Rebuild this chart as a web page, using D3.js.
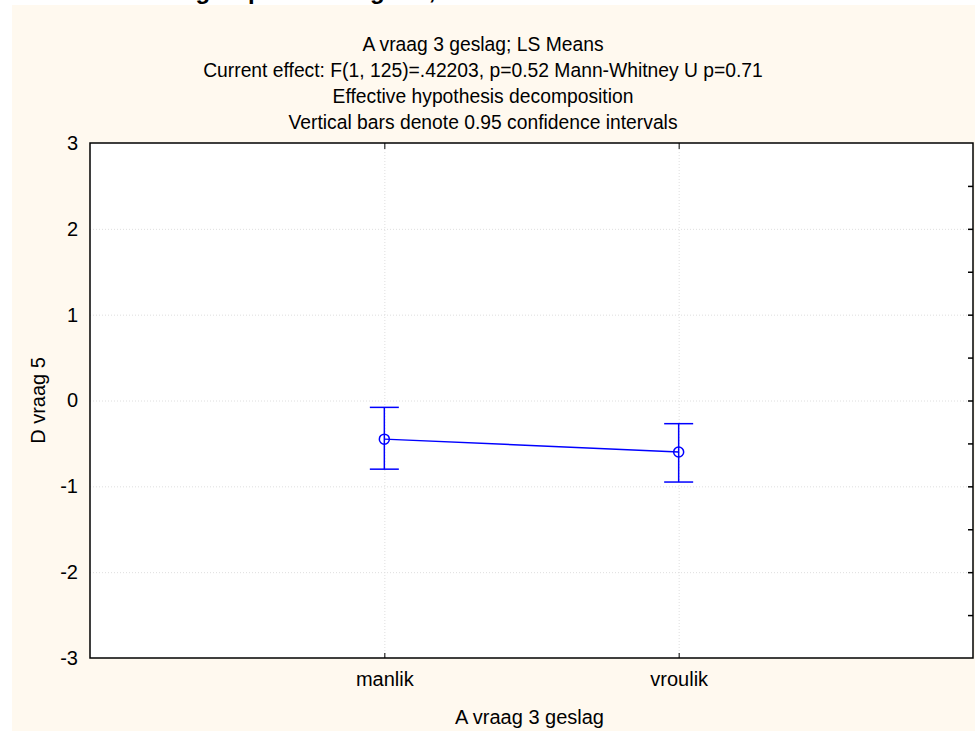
<!DOCTYPE html>
<html>
<head>
<meta charset="utf-8">
<script src="https://cdn.jsdelivr.net/npm/d3@7"></script>
<style>
  html, body { margin: 0; padding: 0; background: #ffffff; }
  svg { display: block; }
  text { font-family: "Liberation Sans", Arial, sans-serif; fill: #000; }
</style>
</head>
<body>
<svg id="chart" width="975" height="731"></svg>
<script>
// LS means of "D vraag 5" by gender, with 95% confidence limits
const categories = ["manlik", "vroulik"];
const means      = [-0.45, -0.60];
const lower95    = [-0.80, -0.95];
const upper95    = [-0.08, -0.27];
const yTicks     = [-3, -2, -1, 0, 1, 2, 3];
const yMinorTicks = [-2.5, -2, -1.5, -1, -0.5, 0, 0.5, 1, 1.5, 2, 2.5];

const titleLines = [
  "A vraag 3 geslag; LS Means",
  "Current effect: F(1, 125)=.42203, p=0.52 Mann-Whitney U p=0.71",
  "Effective hypothesis decomposition",
  "Vertical bars denote 0.95 confidence intervals"
];
const xTitle = "A vraag 3 geslag";
const yTitle = "D vraag 5";

const svg = d3.select("#chart");
const W = 975, H = 731;
const FONT = 20;
const TITLE_FONT = 19.3;

// page heading running above the chart panel
const heading = svg.append("text")
  .attr("y", -1)
  .attr("font-size", 24)
  .attr("font-weight", "bold");
heading.append("tspan").attr("x", 122).text("D vraag");
heading.append("tspan").attr("x", 222).text("5");
heading.append("tspan").attr("x", 248).text("per");
heading.append("tspan").attr("x", 322).text("kategorie,");

// chart panel
svg.append("rect")
  .attr("x", 12).attr("y", 5)
  .attr("width", W - 12).attr("height", H - 5)
  .attr("fill", "#fff9ef");

const plot = { left: 90, top: 143, right: 973, bottom: 658 };

const x = d3.scalePoint()
  .domain(categories)
  .range([plot.left, plot.right])
  .padding(1);

const y = d3.scaleLinear()
  .domain([-3, 3])
  .range([plot.bottom, plot.top]);

// plot area
svg.append("rect")
  .attr("x", plot.left).attr("y", plot.top)
  .attr("width", plot.right - plot.left)
  .attr("height", plot.bottom - plot.top)
  .attr("fill", "#ffffff");

// dotted grid
const grid = svg.append("g")
  .attr("stroke", "#dedede")
  .attr("stroke-width", 1)
  .attr("stroke-dasharray", "1,2");
grid.selectAll("line.h")
  .data(yTicks.filter(v => v > -3 && v < 3))
  .join("line")
  .attr("x1", plot.left).attr("x2", plot.right)
  .attr("y1", d => y(d) + 0.5).attr("y2", d => y(d) + 0.5);
grid.selectAll("line.v")
  .data(categories)
  .join("line")
  .attr("x1", d => x(d) + 0.5).attr("x2", d => x(d) + 0.5)
  .attr("y1", plot.top).attr("y2", plot.bottom);

// left axis labels
svg.append("g")
  .attr("transform", `translate(${plot.left},0)`)
  .call(d3.axisLeft(y).tickValues(yTicks).tickSize(0).tickPadding(12).tickFormat(d => String(d)))
  .call(g => g.select(".domain").remove())
  .call(g => g.selectAll("text")
    .attr("font-size", FONT)
    .attr("font-family", "Liberation Sans, Arial, sans-serif")
    .attr("fill", "#000"));

// right axis: inward ticks, no labels
svg.append("g")
  .attr("transform", `translate(${plot.right},0)`)
  .call(d3.axisLeft(y).tickValues(yMinorTicks).tickSize(5).tickFormat(""))
  .call(g => g.select(".domain").remove())
  .call(g => g.selectAll("line").attr("stroke", "#000").attr("stroke-width", 1.5));

// bottom axis: inward ticks and labels
svg.append("g")
  .attr("transform", `translate(0,${plot.bottom})`)
  .call(d3.axisTop(x).tickSize(5).tickFormat(""))
  .call(g => g.select(".domain").remove())
  .call(g => g.selectAll("line").attr("stroke", "#000"));
svg.append("g")
  .attr("transform", `translate(0,${plot.bottom})`)
  .call(d3.axisBottom(x).tickSize(0).tickPadding(14))
  .call(g => g.select(".domain").remove())
  .call(g => g.selectAll("text")
    .attr("font-size", FONT)
    .attr("font-family", "Liberation Sans, Arial, sans-serif")
    .attr("fill", "#000"));

// top axis: inward ticks
svg.append("g")
  .attr("transform", `translate(0,${plot.top})`)
  .call(d3.axisBottom(x).tickSize(6).tickFormat(""))
  .call(g => g.select(".domain").remove())
  .call(g => g.selectAll("line").attr("stroke", "#000"));

// frame
svg.append("rect")
  .attr("x", plot.left).attr("y", plot.top)
  .attr("width", plot.right - plot.left)
  .attr("height", plot.bottom - plot.top)
  .attr("fill", "none")
  .attr("stroke", "#000")
  .attr("stroke-width", 1.5);

// titles
svg.append("g")
  .selectAll("text")
  .data(titleLines)
  .join("text")
  .attr("x", 483)
  .attr("y", (d, i) => 51 + i * 26)
  .attr("text-anchor", "middle")
  .attr("font-size", TITLE_FONT)
  .text(d => d);

svg.append("text")
  .attr("x", (plot.left + plot.right) / 2 - 2)
  .attr("y", 724)
  .attr("text-anchor", "middle")
  .attr("font-size", FONT)
  .text(xTitle);

svg.append("text")
  .attr("transform", `translate(45,${y(0)}) rotate(-90)`)
  .attr("text-anchor", "middle")
  .attr("font-size", FONT)
  .text(yTitle);

// means, confidence bars and connecting line
const blue = "#0000ff";
const pts = categories.map((c, i) => ({ c, m: means[i], lo: lower95[i], hi: upper95[i] }));
const marks = svg.append("g").attr("stroke", blue).attr("fill", "none").attr("stroke-width", 1.5);

marks.append("path")
  .datum(pts)
  .attr("d", d3.line().x(d => x(d.c)).y(d => y(d.m)));

const capHalf = 14.5;
const ci = marks.selectAll("g.ci").data(pts).join("g");
ci.append("line")
  .attr("x1", d => x(d.c)).attr("x2", d => x(d.c))
  .attr("y1", d => y(d.hi)).attr("y2", d => y(d.lo));
ci.append("line")
  .attr("x1", d => x(d.c) - capHalf).attr("x2", d => x(d.c) + capHalf)
  .attr("y1", d => y(d.hi)).attr("y2", d => y(d.hi));
ci.append("line")
  .attr("x1", d => x(d.c) - capHalf).attr("x2", d => x(d.c) + capHalf)
  .attr("y1", d => y(d.lo)).attr("y2", d => y(d.lo));
ci.append("circle")
  .attr("cx", d => x(d.c)).attr("cy", d => y(d.m))
  .attr("r", 5);
</script>
</body>
</html>
